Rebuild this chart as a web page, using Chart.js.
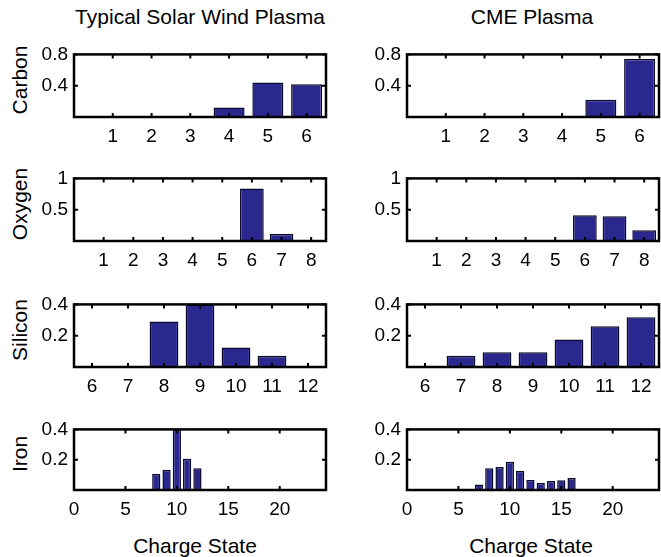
<!DOCTYPE html>
<html>
<head>
<meta charset="utf-8">
<script src="https://cdn.jsdelivr.net/npm/chart.js@4"></script>
<style>
  body { margin: 0; background: #fff; }
  #wrap { position: relative; width: 661px; height: 557px; overflow: hidden; font-family: "Liberation Sans", Arial, sans-serif; color: #000; }
  #wrap canvas { position: absolute; }
  .txt { position: absolute; white-space: nowrap; transform: translate(-50%, -50%); }
  .title { font-size: 21px; }
  .row { font-size: 21px; transform: translate(-50%, -50%) rotate(-90deg); }
  .xlab { font-size: 21px; }
</style>
</head>
<body>
<div id="wrap">
  <div class="txt title" style="left:200px; top:17px;">Typical Solar Wind Plasma</div>
  <div class="txt title" style="left:532px; top:17px;">CME Plasma</div>

  <div class="txt row" style="left:20px; top:80px;">Carbon</div>
  <div class="txt row" style="left:20px; top:204px;">Oxygen</div>
  <div class="txt row" style="left:20px; top:330px;">Silicon</div>
  <div class="txt row" style="left:20px; top:454px;">Iron</div>

  <canvas id="cSolar" width="316" height="110" style="left:14px; top:37px;"></canvas>
  <canvas id="cCme" width="314" height="110" style="left:347px; top:37px;"></canvas>
  <canvas id="oSolar" width="316" height="110" style="left:14px; top:161px;"></canvas>
  <canvas id="oCme" width="314" height="110" style="left:347px; top:161px;"></canvas>
  <canvas id="siSolar" width="316" height="110" style="left:14px; top:287px;"></canvas>
  <canvas id="siCme" width="314" height="110" style="left:347px; top:287px;"></canvas>
  <canvas id="feSolar" width="316" height="108" style="left:14px; top:412px;"></canvas>
  <canvas id="feCme" width="314" height="108" style="left:347px; top:412px;"></canvas>

  <div class="txt xlab" style="left:195px; top:546px;">Charge State</div>
  <div class="txt xlab" style="left:531px; top:546px;">Charge State</div>
</div>

<script>
// charge states and fractional abundances
const carbonStates = [1, 2, 3, 4, 5, 6];
const carbonSolar = [0, 0, 0, 0.12, 0.44, 0.42];
const carbonCme = [0, 0, 0, 0.005, 0.22, 0.74];

const oxygenStates = [1, 2, 3, 4, 5, 6, 7, 8];
const oxygenSolar = [0, 0, 0, 0, 0.01, 0.84, 0.11, 0];
const oxygenCme = [0, 0, 0, 0, 0, 0.41, 0.395, 0.17];

const siliconStates = [6, 7, 8, 9, 10, 11, 12];
const siliconSolar = [0, 0, 0.29, 0.40, 0.125, 0.072, 0];
const siliconCme = [0, 0.072, 0.094, 0.094, 0.175, 0.26, 0.318];

const ironStates = [7, 8, 9, 10, 11, 12, 13, 14, 15, 16, 17, 18, 19, 20, 21];
const ironSolar = [0, 0.105, 0.134, 0.40, 0.207, 0.143, 0, 0, 0, 0, 0, 0, 0, 0, 0];
const ironCme = [0.037, 0.143, 0.152, 0.186, 0.126, 0.066, 0.046, 0.06, 0.065, 0.08, 0.005, 0, 0, 0, 0.005];

// tick labels
const carbonXTicks = [1, 2, 3, 4, 5, 6];
const carbonYTicks = [0.4, 0.8];
const oxygenXTicks = [1, 2, 3, 4, 5, 6, 7, 8];
const oxygenYTicks = [0.5, 1];
const siliconXTicks = [6, 7, 8, 9, 10, 11, 12];
const siliconYTicks = [0.2, 0.4];
const ironXTicks = [0, 5, 10, 15, 20];
const ironYTicks = [0.2, 0.4];

const tickFont = { family: "'Liberation Sans', Arial, sans-serif", size: 19 };

// matlab style box with inward ticks on all four sides
const framePlugin = {
    id: 'frame',
    afterDraw(chart) {
        const { ctx, chartArea: a } = chart;
        const x = chart.scales.x, y = chart.scales.y;
        ctx.save();
        ctx.strokeStyle = '#000';
        ctx.lineWidth = 2;
        ctx.beginPath();
        x.ticks.forEach(t => {
            const px = x.getPixelForValue(t.value);
            ctx.moveTo(px, a.bottom); ctx.lineTo(px, a.bottom - 4);
            ctx.moveTo(px, a.top); ctx.lineTo(px, a.top + 4);
        });
        y.ticks.forEach(t => {
            const py = y.getPixelForValue(t.value);
            ctx.moveTo(a.left, py); ctx.lineTo(a.left + 4, py);
            ctx.moveTo(a.right, py); ctx.lineTo(a.right - 4, py);
        });
        ctx.stroke();
        ctx.lineWidth = 2.5;
        ctx.strokeRect(a.left, a.top, a.right - a.left, a.bottom - a.top);
        ctx.restore();
    }
};

function makePanel(id, states, values, xMin, xMax, xTicks, yMax, yTicks, padRight) {
    new Chart(document.getElementById(id), {
        type: 'bar',
        data: {
            datasets: [{
                data: states.map((s, i) => ({ x: s, y: values[i] })),
                backgroundColor: '#2a288e',
                borderColor: '#08082a',
                borderWidth: 1.5,
                barPercentage: 0.8,
                categoryPercentage: 1
            }]
        },
        options: {
            responsive: false,
            animation: false,
            layout: { padding: { top: 6, right: padRight, left: 0, bottom: 0 } },
            plugins: { legend: { display: false }, tooltip: { enabled: false } },
            scales: {
                x: {
                    type: 'linear',
                    min: xMin,
                    max: xMax,
                    offset: false,
                    grid: { display: false, drawTicks: false },
                    border: { display: false },
                    ticks: { padding: 8, font: tickFont, color: '#000', autoSkip: false, maxRotation: 0, callback: v => String(v) },
                    afterBuildTicks: s => { s.ticks = xTicks.map(v => ({ value: v })); },
                    afterFit: s => { s.height = 30; }
                },
                y: {
                    min: 0,
                    max: yMax,
                    grid: { display: false, drawTicks: false },
                    border: { display: false },
                    ticks: { padding: 6, font: tickFont, color: '#000', autoSkip: false, callback: v => String(v) },
                    afterBuildTicks: s => { s.ticks = yTicks.map(v => ({ value: v })); },
                    afterFit: s => { s.width = 60; }
                }
            }
        },
        plugins: [framePlugin]
    });
}

makePanel('cSolar', carbonStates, carbonSolar, 0, 6.5, carbonXTicks, 0.8, carbonYTicks, 4);
makePanel('cCme', carbonStates, carbonCme, 0, 6.5, carbonXTicks, 0.8, carbonYTicks, 2);
makePanel('oSolar', oxygenStates, oxygenSolar, 0, 8.5, oxygenXTicks, 1, oxygenYTicks, 4);
makePanel('oCme', oxygenStates, oxygenCme, 0, 8.5, oxygenXTicks, 1, oxygenYTicks, 2);
makePanel('siSolar', siliconStates, siliconSolar, 5.5, 12.5, siliconXTicks, 0.4, siliconYTicks, 4);
makePanel('siCme', siliconStates, siliconCme, 5.5, 12.5, siliconXTicks, 0.4, siliconYTicks, 2);
makePanel('feSolar', ironStates, ironSolar, 0, 24.5, ironXTicks, 0.4, ironYTicks, 4);
makePanel('feCme', ironStates, ironCme, 0, 24.5, ironXTicks, 0.4, ironYTicks, 2);
</script>
</body>
</html>
